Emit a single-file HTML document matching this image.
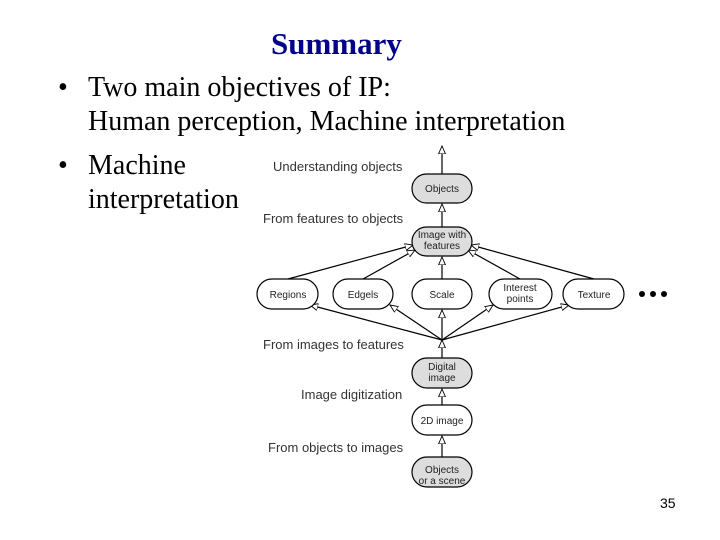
<!DOCTYPE html>
<html><head><style>
body{margin:0;width:720px;height:540px;background:#fff;position:relative;overflow:hidden;font-family:"Liberation Serif",serif}
.t{position:absolute;color:#000;font-size:28px;line-height:34px;white-space:nowrap}
</style></head><body>
<div class="t" style="left:271px;top:26px;color:#00008b;font-weight:bold;font-size:31px;line-height:36px">Summary</div>
<div class="t" style="left:58px;top:71px">•</div>
<div class="t" style="left:88px;top:71px">Two main objectives of IP:<br>Human perception, Machine interpretation</div>
<div class="t" style="left:58px;top:149px">•</div>
<div class="t" style="left:88px;top:149px">Machine<br>interpretation</div>
<div style="position:absolute;left:660px;top:495px;font-family:'Liberation Sans',sans-serif;font-size:14px">35</div>
<svg width="720" height="540" style="position:absolute;left:0;top:0" font-family="Liberation Sans, sans-serif" font-size="11">
<defs><marker id="a" markerWidth="10" markerHeight="10" refX="8" refY="4.5" orient="auto" markerUnits="userSpaceOnUse"><path d="M0,1 L8,4.5 L0,8 Z" fill="#fff" stroke="#000" stroke-width="0.9"/></marker></defs>
<g stroke="#000" stroke-width="1.2" fill="none" marker-end="url(#a)">
<line x1="442" y1="174" x2="442" y2="146"/>
<line x1="442" y1="227" x2="442" y2="204"/>
<line x1="288" y1="279" x2="413" y2="245"/>
<line x1="363" y1="279" x2="415" y2="250"/>
<line x1="442" y1="279" x2="442" y2="257"/>
<line x1="520" y1="279" x2="468" y2="250"/>
<line x1="594" y1="279" x2="471" y2="245"/>
<line x1="442" y1="340" x2="310" y2="305"/>
<line x1="442" y1="340" x2="390" y2="305"/>
<line x1="442" y1="340" x2="442" y2="310"/>
<line x1="442" y1="340" x2="493" y2="305"/>
<line x1="442" y1="340" x2="569" y2="305"/>
<line x1="442" y1="358" x2="442" y2="340"/>
<line x1="442" y1="405" x2="442" y2="389"/>
<line x1="442" y1="457" x2="442" y2="436"/>
</g>
<g stroke="#000" stroke-width="1.2">
<rect x="412" y="174" width="60" height="29" rx="14.5" fill="#ddd"/>
<rect x="412" y="227" width="60" height="29" rx="14.5" fill="#ddd"/>
<rect x="257" y="279" width="61" height="30" rx="15" fill="#fff"/>
<rect x="333" y="279" width="60" height="30" rx="15" fill="#fff"/>
<rect x="412" y="279" width="60" height="30" rx="15" fill="#fff"/>
<rect x="489" y="279" width="63" height="30" rx="15" fill="#fff"/>
<rect x="563" y="279" width="61" height="30" rx="15" fill="#fff"/>
<rect x="412" y="358" width="60" height="30" rx="15" fill="#ddd"/>
<rect x="412" y="405" width="60" height="30" rx="15" fill="#fff"/>
<rect x="412" y="457" width="60" height="30" rx="15" fill="#ddd"/>
</g>
<g fill="#000"><circle cx="642" cy="294" r="3"/><circle cx="653" cy="294" r="3"/><circle cx="664" cy="294" r="3"/></g>
<g fill="#222" text-anchor="middle" font-size="10">
<text x="442" y="192">Objects</text>
<text x="442" y="238">Image with</text><text x="442" y="249">features</text>
<text x="288" y="298">Regions</text>
<text x="363" y="298">Edgels</text>
<text x="442" y="298">Scale</text>
<text x="520" y="291">Interest</text><text x="520" y="302">points</text>
<text x="594" y="298">Texture</text>
<text x="442" y="370">Digital</text><text x="442" y="381">image</text>
<text x="442" y="424">2D image</text>
<text x="442" y="473">Objects</text><text x="442" y="484">or a scene</text>
</g>
<g fill="#333" font-size="13">
<text x="273" y="171">Understanding objects</text>
<text x="263" y="223">From features to objects</text>
<text x="263" y="349">From images to features</text>
<text x="301" y="399">Image digitization</text>
<text x="268" y="452">From objects to images</text>
</g>
</svg>
</body></html>
